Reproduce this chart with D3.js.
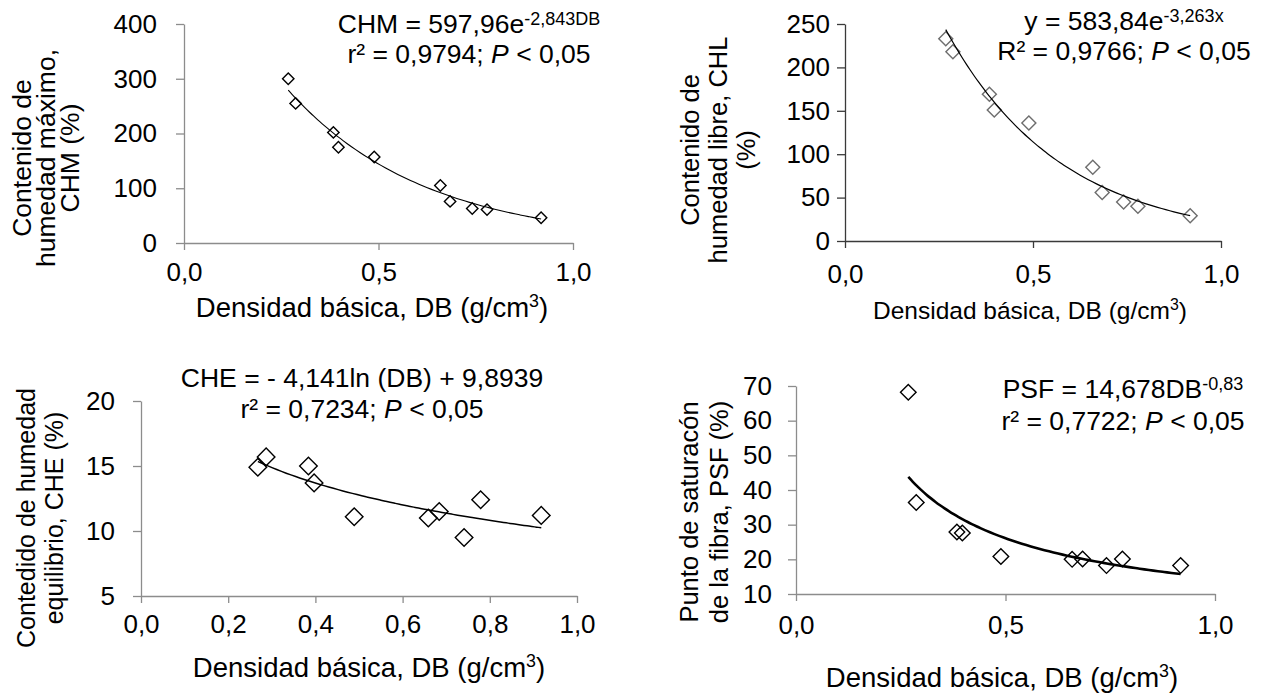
<!DOCTYPE html>
<html>
<head>
<meta charset="utf-8">
<script src="https://cdn.jsdelivr.net/npm/d3@7"></script>
<style>
  body { margin: 0; background: #fff; }
  svg { display: block; }
  text { font-family: 'Liberation Sans', Arial, sans-serif; fill: #000; }
</style>
</head>
<body>
<div id="chart"></div>
<script>
// densidad basica (g/cm3), same 10 species in every panel
var densidad = [0.268, 0.287, 0.384, 0.397, 0.489, 0.659, 0.684, 0.741, 0.779, 0.918];

// moisture contents
var chm = [300, 255, 202, 175, 157, 105, 76, 63, 61, 46];
var chl = [233, 218, 169, 151, 136, 85, 56, 45, 40, 29];
var che = [14.9, 15.7, 15.0, 13.7, 11.1, 11.0, 11.5, 9.5, 12.4, 11.2];
var psf = [68.2, 36.4, 27.9, 27.6, 20.8, 20.0, 20.1, 18.2, 20.1, 18.2];

// fitted equations shown on the chart
var fitCHM = [597.96, -2.843];   // a * e^(b*DB)
var fitCHL = [583.84, -3.263];   // a * e^(b*x)
var fitCHE = [-4.141, 9.8939];   // a * ln(DB) + b
var fitPSF = [14.678, -0.83];    // a * DB^b

// tick values
var ticksCHM = [0, 100, 200, 300, 400];
var ticksCHL = [0, 50, 100, 150, 200, 250];
var ticksCHE = [5, 10, 15, 20];
var ticksPSF = [10, 20, 30, 40, 50, 60, 70];
var xTicksCoarse = [0, 0.5, 1.0];
var xTicksFine = [0, 0.2, 0.4, 0.6, 0.8, 1.0];

var W = 1283, H = 698;
var svg = d3.select("#chart").append("svg")
    .attr("width", W).attr("height", H);
svg.append("rect").attr("width", W).attr("height", H).attr("fill", "#fff");

var comma = function(d){ return d.toFixed(1).replace(".", ","); };

function drawPanel(p) {
    var x = d3.scaleLinear().domain([0, 1]).range([p.left, p.right]);
    var y = d3.scaleLinear().domain(p.yDomain).range([p.bottom, p.top]);
    var g = svg.append("g");

    var yAxis = d3.axisLeft(y).tickValues(p.yTicks).tickSize(8).tickSizeOuter(0)
        .tickPadding(p.yPad).tickFormat(d3.format("d"));
    var xAxis = d3.axisBottom(x).tickValues(p.xTicks).tickSize(7).tickSizeOuter(0)
        .tickPadding(p.xPad).tickFormat(comma);

    var ya = g.append("g").attr("transform", "translate(" + p.left + ",0)").call(yAxis);
    var xa = g.append("g").attr("transform", "translate(0," + p.bottom + ")").call(xAxis);
    [ya, xa].forEach(function(a){
        a.select(".domain").attr("stroke", p.axisColor).attr("stroke-width", 1.3);
        a.selectAll(".tick line").attr("stroke", p.axisColor).attr("stroke-width", 1.3);
        a.selectAll(".tick text").attr("font-size", 26).attr("fill", "#000")
            .attr("font-family", "'Liberation Sans', Arial, sans-serif");
    });

    // markers
    var sym = d3.symbol().type(d3.symbolSquare).size(2 * p.r * p.r);
    g.selectAll(".pt").data(densidad).enter().append("path")
        .attr("d", sym)
        .attr("transform", function(d, i){
            return "translate(" + x(d) + "," + y(p.values[i]) + ") rotate(45)";
        })
        .attr("fill", "none")
        .attr("stroke", p.markerColor)
        .attr("stroke-width", 1.4);

    // trend line from the equation
    var ext = d3.extent(densidad);
    var xs = d3.range(ext[0], ext[1] + 0.0001, (ext[1] - ext[0]) / 60);
    var line = d3.line().x(function(d){ return x(d); }).y(function(d){ return y(p.fit(d)); })
        .curve(d3.curveMonotoneX);
    g.append("path").datum(xs).attr("d", line)
        .attr("fill", "none").attr("stroke", "#000").attr("stroke-width", p.lineW);

    // x title
    var xt = g.append("text").attr("x", p.xtX).attr("y", p.xtY)
        .attr("text-anchor", "middle").attr("font-size", p.xtSize);
    xt.append("tspan").text("Densidad básica, DB (g/cm");
    xt.append("tspan").attr("font-size", p.xtSize * 0.65).attr("dy", -p.xtSize * 0.38).text("3");
    xt.append("tspan").attr("dy", p.xtSize * 0.38).text(")");

    // y title (rotated)
    var yt = g.append("text")
        .attr("transform", "translate(" + p.ytX + "," + p.ytY + ") rotate(-90)")
        .attr("text-anchor", "middle").attr("font-size", p.ytSize);
    var n = p.ytLines.length;
    p.ytLines.forEach(function(s, i){
        yt.append("tspan").attr("x", 0).attr("y", (i - (n - 1) / 2) * p.ytGap)
            .attr("dominant-baseline", "central").text(s);
    });

    // equation
    var e1 = g.append("text").attr("x", p.eqX).attr("y", p.eqY1)
        .attr("text-anchor", "middle").attr("font-size", 26.5);
    e1.append("tspan").text(p.eqMain);
    e1.append("tspan").attr("font-size", 18).attr("dy", -8).text(p.eqSup);
    var e2 = g.append("text").attr("x", p.eqX).attr("y", p.eqY2)
        .attr("text-anchor", "middle").attr("font-size", 26.5);
    e2.append("tspan").text(p.r2);
    e2.append("tspan").attr("font-style", "italic").text("P");
    e2.append("tspan").text(" < 0,05");
}

drawPanel({
    left: 184, right: 573, top: 24, bottom: 243,
    yDomain: [0, 400], yTicks: ticksCHM, xTicks: xTicksCoarse,
    yPad: 19, xPad: 12.5, axisColor: "#8c8c8c", markerColor: "#000", r: 5.7, lineW: 1.1,
    values: chm,
    fit: function(d){ return fitCHM[0] * Math.exp(fitCHM[1] * d); },
    xtX: 372, xtY: 317, xtSize: 27.5,
    ytX: 46, ytY: 158, ytSize: 26.5, ytGap: 24,
    ytLines: ["Contenido de", "humedad máximo,", "CHM (%)"],
    eqX: 469, eqY1: 33, eqY2: 63,
    eqMain: "CHM = 597,96e", eqSup: "-2,843DB", r2: "r² = 0,9794; "
});

drawPanel({
    left: 845, right: 1221, top: 24, bottom: 241,
    yDomain: [0, 250], yTicks: ticksCHL, xTicks: xTicksCoarse,
    yPad: 7, xPad: 16.5, axisColor: "#3a3a3a", markerColor: "#6e6e6e", r: 7, lineW: 1.2,
    values: chl,
    fit: function(d){ return fitCHL[0] * Math.exp(fitCHL[1] * d); },
    xtX: 1030, xtY: 319, xtSize: 24.5,
    ytX: 718, ytY: 150, ytSize: 25.5, ytGap: 28,
    ytLines: ["Contenido de", "humedad libre, CHL", "(%)"],
    eqX: 1124, eqY1: 30, eqY2: 60,
    eqMain: "y = 583,84e", eqSup: "-3,263x", r2: "R² = 0,9766; "
});

drawPanel({
    left: 141, right: 577, top: 401, bottom: 596,
    yDomain: [5, 20], yTicks: ticksCHE, xTicks: xTicksFine,
    yPad: 18, xPad: 11.5, axisColor: "#8c8c8c", markerColor: "#000", r: 8.8, lineW: 1.5,
    values: che,
    fit: function(d){ return fitCHE[0] * Math.log(d) + fitCHE[1]; },
    xtX: 369, xtY: 677, xtSize: 27.5,
    ytX: 40, ytY: 518, ytSize: 25, ytGap: 28,
    ytLines: ["Contedido de humedad", "equilibrio, CHE (%)"],
    eqX: 362, eqY1: 387, eqY2: 418,
    eqMain: "CHE = - 4,141ln (DB) + 9,8939", eqSup: "", r2: "r² = 0,7234; "
});

drawPanel({
    left: 796, right: 1215, top: 386, bottom: 594,
    yDomain: [10, 70], yTicks: ticksPSF, xTicks: xTicksCoarse,
    yPad: 16, xPad: 14.5, axisColor: "#8c8c8c", markerColor: "#000", r: 7.8, lineW: 2.6,
    values: psf,
    fit: function(d){ return fitPSF[0] * Math.pow(d, fitPSF[1]); },
    xtX: 1002, xtY: 687, xtSize: 27.5,
    ytX: 704, ytY: 512, ytSize: 25.5, ytGap: 30,
    ytLines: ["Punto de saturacón", "de la fibra, PSF (%)"],
    eqX: 1123, eqY1: 398, eqY2: 430,
    eqMain: "PSF = 14,678DB", eqSup: "-0,83", r2: "r² = 0,7722; "
});
</script>
</body>
</html>
